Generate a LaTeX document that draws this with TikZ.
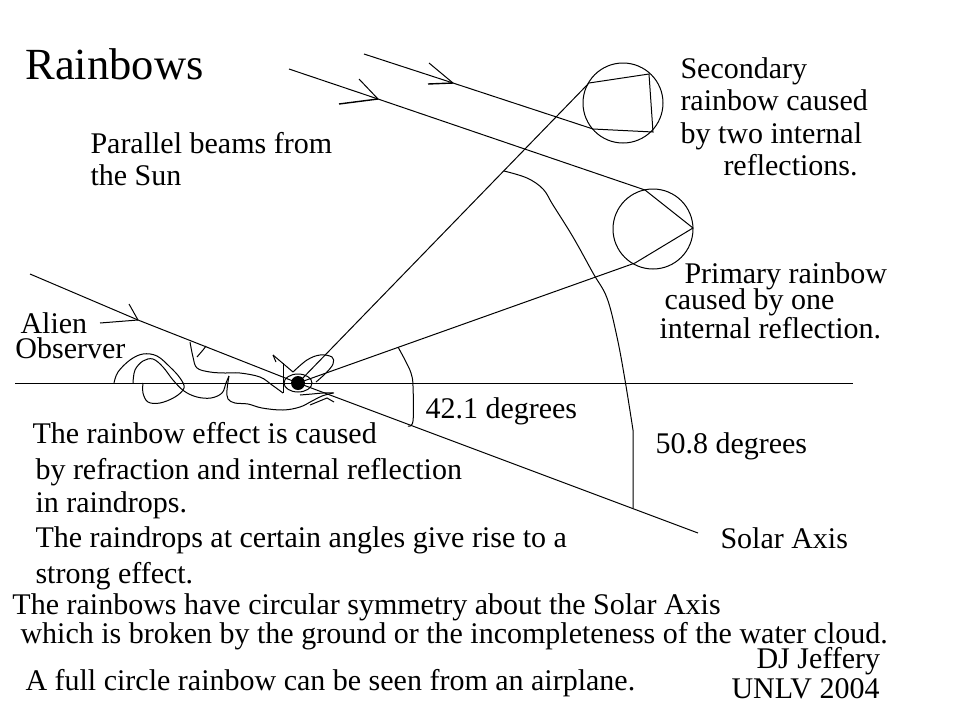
\documentclass[tikz,border=0pt]{standalone}
\usepackage{fontspec}
\setmainfont{Liberation Serif}
\usetikzlibrary{calc}

\tikzset{
  txt/.style={anchor=base west, inner sep=0pt, font=\rmfamily\fontsize{30}{35}\selectfont},
  drop/.style={circle, draw, inner sep=0pt, minimum size=80},
  ray/.style={line width=1pt},
}

\begin{document}
\begin{tikzpicture}[x=1pt, y=-1pt, line width=1pt]
 \useasboundingbox (0,0) rectangle (959,713);

 %points
 \coordinate (eye) at (298,383);
 \coordinate (sunA) at (289,69);
 \coordinate (headA) at (378,99);
 \coordinate (inA) at (645,190);
 \coordinate (backA) at (693,228);
 \coordinate (outA) at (635,263);
 \coordinate (sunB) at (364,54);
 \coordinate (headB) at (453,83);
 \coordinate (inB) at (593,129);
 \coordinate (bB1) at (653,132);
 \coordinate (bB2) at (649,74);
 \coordinate (outB) at (589,83);
 \coordinate (sunC) at (30,274);
 \coordinate (headC) at (138,320);
 \coordinate (axisEnd) at (698,533);
 \coordinate (horL) at (15,383);
 \coordinate (horR) at (853,383);

 %drops
 \node[drop] (dropA) at (653,229) {};
 \node[drop] (dropB) at (623,103) {};

 %horizon
 \draw (horL) -- (horR);

 %primary rainbow ray
 \draw[ray] (sunA) -- (headA) -- (inA) -- (backA) -- (outA) -- (eye);
 %secondary rainbow ray
 \draw[ray] (sunB) -- (headB) -- (inB) -- (bB1) -- (bB2) -- (outB) -- (eye);
 %solar axis
 \draw[ray] (sunC) -- (headC) -- (eye) -- (axisEnd);

 %arrow
 \draw (headA) -- ++(-19,-20);
 \draw[line width=1.4pt] (headA) -- ++(-39,5);
 \draw (headB) -- ++(-24,-20);
 \draw[line width=1.4pt] (headB) -- ++(-25,1);
 \draw (headC) -- ++(-9,-16);
 \draw (headC) -- ++(-38,3);

 %arc
 \coordinate (a42s) at (398,347);
 \coordinate (a42e) at (408,426);
 \draw plot[smooth, tension=0.6] coordinates {(a42s) (405,360) (411,373) (413,386) (413,421) (a42e)};
 \coordinate (a50s) at (504,171);
 \coordinate (a50e) at (633,508);
 \draw plot[smooth, tension=0.6] coordinates {(a50s) (527,178) (543,189) (553,205) (573,237) (593,273) (607,298) (617,337) (625,380) (633,430)} -- (a50e);

 %observer and cloud
 \fill (eye) circle (7);
 \draw (eye) ellipse (14 and 9);
 \draw plot[smooth, tension=0.6] coordinates {(114,383) (118,372) (130,360) (143,354) (157,356) (170,367) (180,378) (184,388) (175,397) (160,403) (148,402) (143,393) (143,383)};
 \draw plot[smooth, tension=0.6] coordinates {(133,383) (135,370) (143,361) (153,359) (163,367) (173,380) (184,391) (197,397) (211,398) (222,393) (226,383) (229,376)};
 \draw plot[smooth, tension=0.6] coordinates {(190,342) (193,357) (197,368) (210,372) (225,373) (240,373) (260,377) (272,385) (283,393)};
 \draw plot[smooth, tension=0.6] coordinates {(229,376) (227,390) (228,399) (235,403) (248,404) (262,408) (283,410) (300,407) (312,401) (322,396) (333,393)};
 \draw (197,357) -- (203,350) -- (206,346);
 \draw (273,355) -- (276,362);
 \draw (273,355) -- (293,372);
 \draw (283,363) -- (283,393);
 \draw plot[smooth, tension=0.6] coordinates {(293,372) (307,360) (320,355) (332,357) (333,364) (326,373) (316,382)};
 \draw plot[smooth, tension=0.6] coordinates {(300,395) (312,394) (323,393) (334,393)};
 \draw (310,405) -- (327,398) -- (334,402);

 %labels
 \node[txt, font=\rmfamily\fontsize{44.5}{50}\selectfont] (title) at (25,79) {Rainbows};
 \foreach \x/\y/\name/\txt in {90/153/sun1/Parallel beams from, 90/185/sun2/the Sun,
   680/78/sec1/Secondary, 680/110/sec2/rainbow caused, 680/143/sec3/by two internal, 723/175/sec4/reflections.,
   684/283/pri1/Primary rainbow, 664/309/pri2/caused by one, 659/338/pri3/internal reflection.,
   20/333/obs1/Alien, 15/358/obs2/Observer,
   425/418/deg1/42.1 degrees, 655/453/deg2/50.8 degrees, 720/548/axis/Solar Axis,
   32/443/eff1/The rainbow effect is caused, 35/479/eff2/by refraction and internal reflection,
   35/512/eff3/in raindrops., 35/547/eff4/The raindrops at certain angles give rise to a,
   35/583/eff5/strong effect.,
   12/614/sym1/The rainbows have circular symmetry about the Solar Axis,
   20/643/sym2/which is broken by the ground or the incompleteness of the water cloud.,
   756/668/auth1/DJ Jeffery, 25/690/full/A full circle rainbow can be seen from an airplane.,
   731/698/auth2/UNLV 2004} {
    \node[txt] (\name) at (\x,\y) {\txt};
 }

\end{tikzpicture}
\end{document}
